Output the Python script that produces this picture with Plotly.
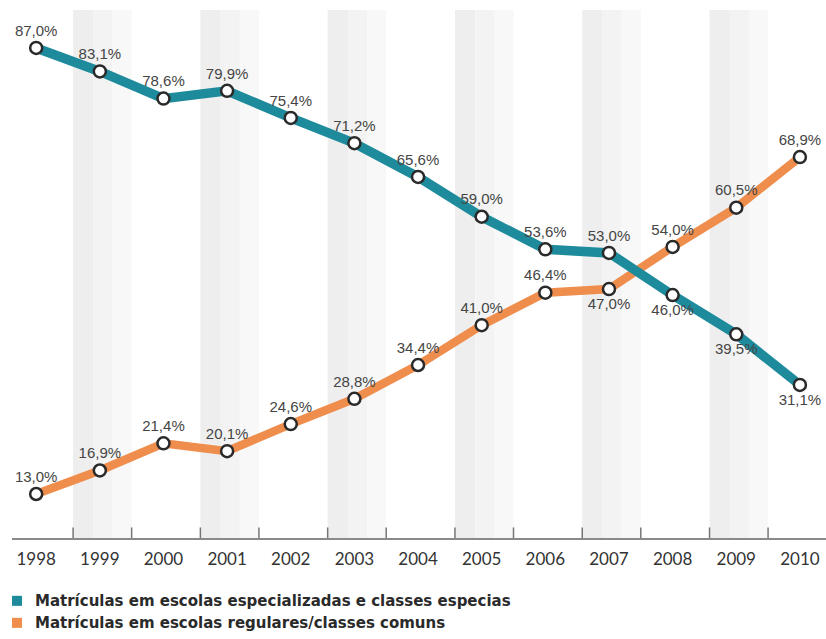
import plotly.graph_objects as go

years = [1998, 1999, 2000, 2001, 2002, 2003, 2004, 2005, 2006, 2007, 2008, 2009, 2010]
especial = [87.0, 83.1, 78.6, 79.9, 75.4, 71.2, 65.6, 59.0, 53.6, 53.0, 46.0, 39.5, 31.1]
regular = [13.0, 16.9, 21.4, 20.1, 24.6, 28.8, 34.4, 41.0, 46.4, 47.0, 54.0, 60.5, 68.9]
especial_pos = ["top center"] * 10 + ["bottom center"] * 3
regular_pos = ["top center"] * 9 + ["bottom center"] + ["top center"] * 3
band_years = [1999, 2001, 2003, 2005, 2007, 2009]
legend_names = ["Matrículas em escolas especializadas e classes especias",
                "Matrículas em escolas regulares/classes comuns"]

TEAL = "#1e8b9d"
ORANGE = "#ef8d4d"

def fmt(v):
    return f"{v:.1f}%".replace(".", ",")

fig = go.Figure()

label_font = dict(family="Liberation Sans", size=15, color="#454545")
marker_style = dict(size=12, color="white", line=dict(color="#2a2a2a", width=2.5))

fig.add_trace(go.Scatter(
    x=years, y=regular, mode="lines+markers+text",
    text=[fmt(v) for v in regular], textposition=regular_pos, textfont=label_font,
    line=dict(color=ORANGE, width=8.5), marker=marker_style,
    showlegend=False, cliponaxis=False))

fig.add_trace(go.Scatter(
    x=years, y=especial, mode="lines+markers+text",
    text=[fmt(v) for v in especial], textposition=especial_pos, textfont=label_font,
    line=dict(color=TEAL, width=9.5), marker=marker_style,
    showlegend=False, cliponaxis=False))

shapes = []
steps = [(-0.42, -0.1, "#eeeeee"), (-0.1, 0.2, "#f3f3f3"), (0.2, 0.5, "#f8f8f8")]
for by in band_years:
    for a, b, c in steps:
        shapes.append(dict(type="rect", xref="x", yref="paper", x0=by + a, x1=by + b,
                           y0=0, y1=1, fillcolor=c, line=dict(width=0), layer="below"))
    for e in (by - 0.42, by + 0.5):
        shapes.append(dict(type="line", xref="x", yref="paper", x0=e, x1=e,
                           y0=0, y1=0.02, line=dict(color="#777", width=1.5)))

# legend (squares + labels) placed below the axis
annotations = []
for i, (name, col) in enumerate(zip(legend_names, [TEAL, ORANGE])):
    yc = -0.119 - i * 0.0417
    shapes.append(dict(type="rect", xref="paper", yref="paper",
                       x0=0.0, x1=0.0123, y0=yc - 0.0095, y1=yc + 0.0095,
                       fillcolor=col, line=dict(width=0)))
    annotations.append(dict(xref="paper", yref="paper", x=0.0258, y=yc, xanchor="left",
                            yanchor="middle", showarrow=False, text=name,
                            font=dict(family="DejaVu Sans", size=15, color="#2a2a2a",
                                      weight="bold")))

fig.update_layout(
    width=826, height=639,
    margin=dict(l=12, r=0, t=10, b=101),
    plot_bgcolor="white", paper_bgcolor="white",
    shapes=shapes, annotations=annotations, showlegend=False,
    xaxis=dict(range=[1997.62, 2010.41], tickvals=years, ticktext=[str(y) for y in years],
               showgrid=False, zeroline=False, showline=True, linecolor="#8a8a8a", linewidth=2,
               ticks="", tickfont=dict(family="Lato", size=17, color="#333"), ticklabelstandoff=5),
    yaxis=dict(range=[5.7, 93.3], visible=False),
)

fig.write_html("out.html", config={"displayModeBar": False},
               post_script="document.body.style.margin='0';")
